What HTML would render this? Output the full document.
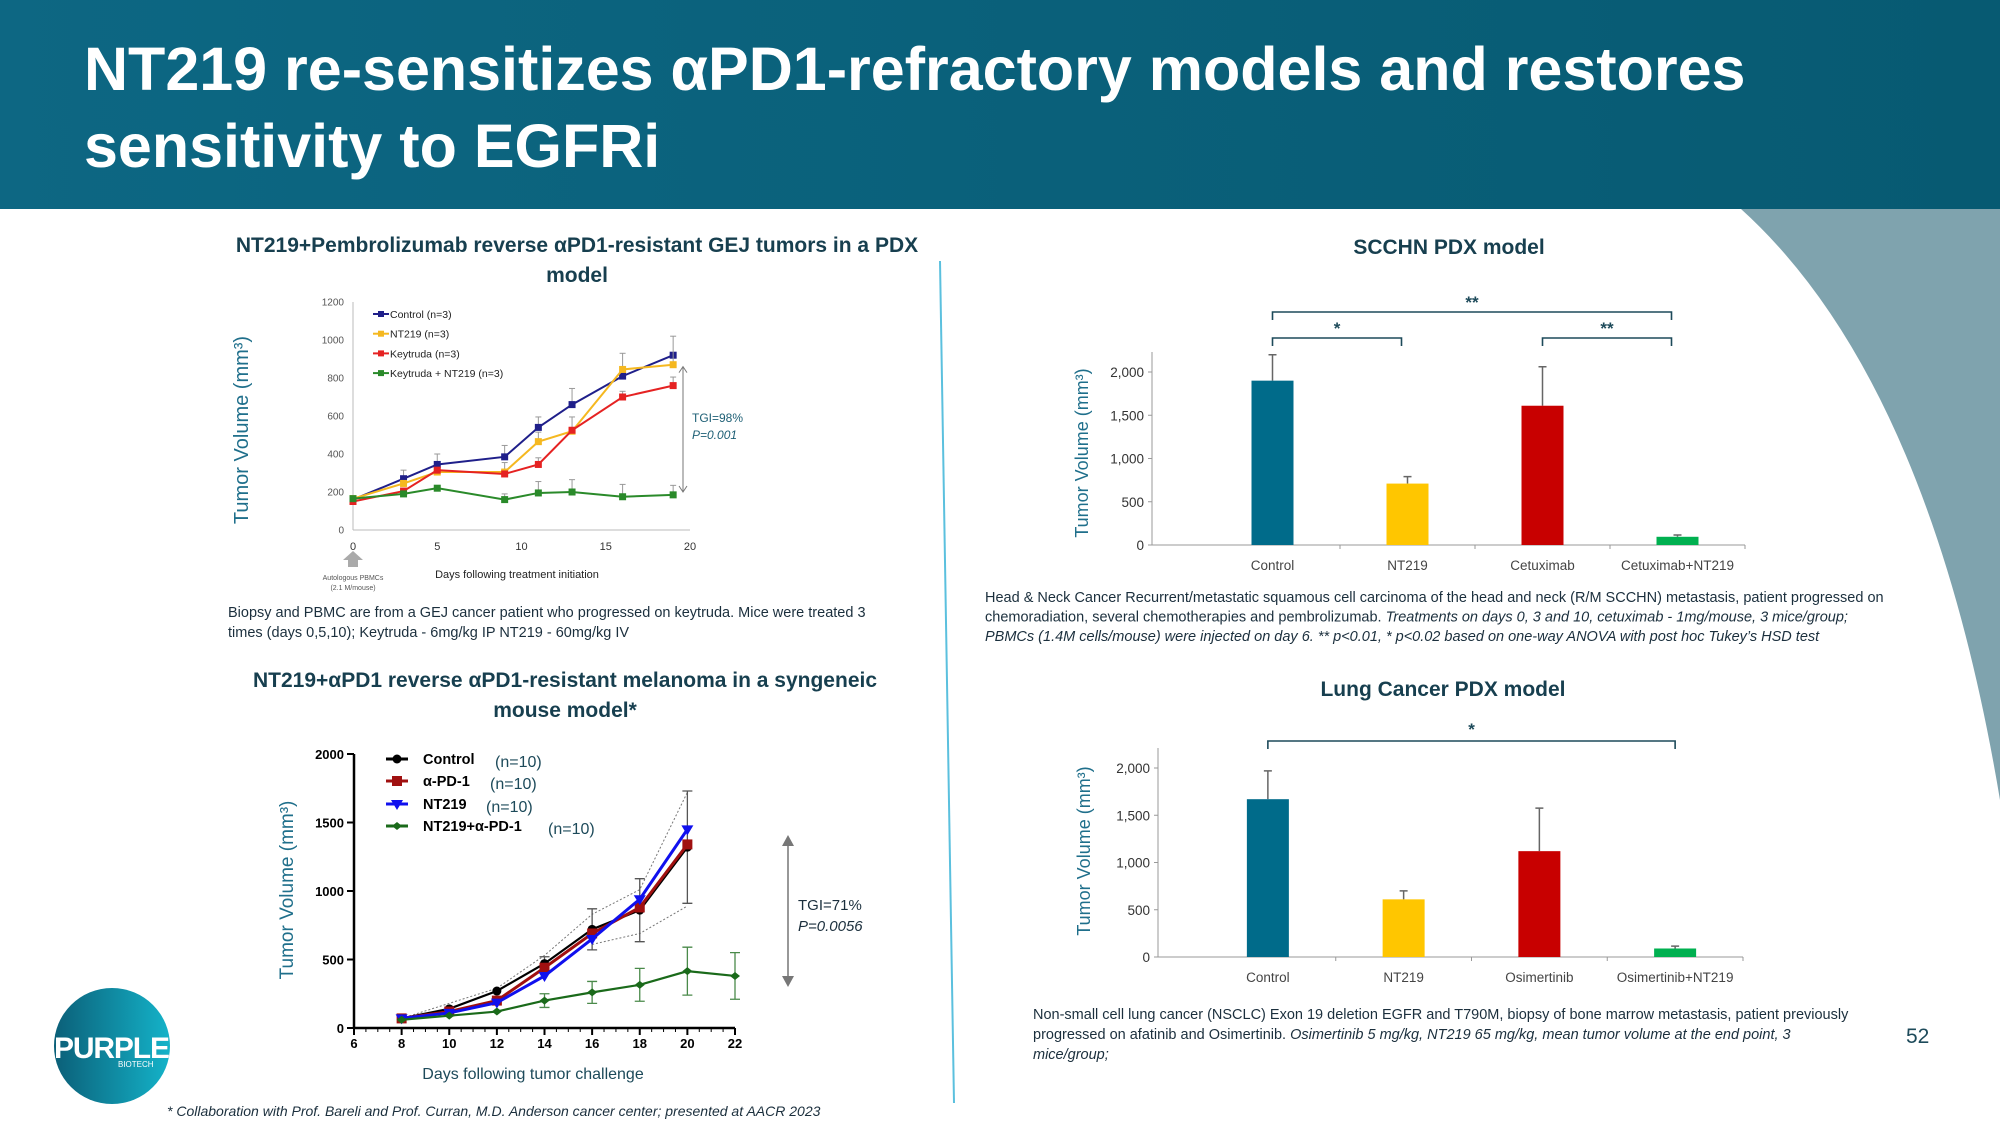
<!DOCTYPE html>
<html><head><meta charset="utf-8"><style>
html,body{margin:0;padding:0;background:#fff}
svg{display:block;font-family:"Liberation Sans",sans-serif}
</style></head><body>
<svg id="s" width="2000" height="1125" viewBox="0 0 2000 1125" xmlns="http://www.w3.org/2000/svg">
<defs>
<linearGradient id="hg" x1="0" x2="1" y1="0" y2="0"><stop offset="0" stop-color="#0d6783"/><stop offset="1" stop-color="#075a72"/></linearGradient>
<linearGradient id="lg" x1="0" x2="1"><stop offset="0" stop-color="#0b5f78"/><stop offset="1" stop-color="#14b3c9"/></linearGradient>
<clipPath id="cc"><circle cx="112" cy="1046" r="58"/></clipPath>
</defs>
<rect x="0" y="0" width="2000" height="209" fill="url(#hg)"/>
<path d="M1741 209 Q1930 380 2000 800 L2000 209 Z" fill="#7fa3ae"/>
<text x="84" y="90" font-size="61" font-weight="bold" fill="#fff"><tspan x="84">NT219  re-sensitizes αPD1-refractory models and restores</tspan><tspan x="84" dy="77">sensitivity to EGFRi</tspan></text>
<line x1="940" y1="261" x2="954" y2="1103" stroke="#5bc0de" stroke-width="2"/>

<g fill="#173f4f" font-weight="bold" font-size="21" text-anchor="middle">
<text x="577" y="252">NT219+Pembrolizumab reverse αPD1-resistant GEJ tumors in a PDX</text>
<text x="577" y="282">model</text>
<text x="565" y="687">NT219+αPD1 reverse αPD1-resistant melanoma in a syngeneic</text>
<text x="565" y="717">mouse model*</text>
<text x="1449" y="254">SCCHN PDX model</text>
<text x="1443" y="696">Lung Cancer PDX model</text>
</g>

<g fill="#1b2f3d" font-size="14.5">
<text x="228" y="617"><tspan x="228">Biopsy and PBMC are from a GEJ cancer patient who progressed on keytruda.  Mice were treated 3</tspan><tspan x="228" dy="20">times (days  0,5,10); Keytruda - 6mg/kg IP NT219 - 60mg/kg IV</tspan></text>
<text x="985" y="602"><tspan x="985">Head &amp; Neck Cancer Recurrent/metastatic squamous cell carcinoma of the head and neck (R/M SCCHN) metastasis, patient progressed on</tspan><tspan x="985" dy="19.5">chemoradiation, several chemotherapies and pembrolizumab. <tspan font-style="italic">Treatments on days 0, 3 and 10, cetuximab - 1mg/mouse, 3 mice/group;</tspan></tspan><tspan x="985" dy="19.5" font-style="italic">PBMCs (1.4M cells/mouse) were injected on day 6. ** p&lt;0.01, * p&lt;0.02 based on one-way ANOVA with post hoc Tukey’s HSD test</tspan></text>
<text x="1033" y="1019"><tspan x="1033">Non-small cell lung cancer (NSCLC) Exon 19 deletion EGFR and T790M, biopsy of bone marrow metastasis, patient previously</tspan><tspan x="1033" dy="20">progressed on afatinib and Osimertinib. <tspan font-style="italic">Osimertinib 5 mg/kg, NT219 65 mg/kg, mean tumor volume at the end point, 3</tspan></tspan><tspan x="1033" dy="20" font-style="italic">mice/group;</tspan></text>
<text x="167" y="1116" font-style="italic" font-size="14">* Collaboration with Prof. Bareli and Prof. Curran, M.D. Anderson cancer center; presented at AACR 2023</text>
</g>
<text x="1906" y="1043" font-size="21" fill="#1d4a5a">52</text>

<g>
<circle cx="112" cy="1046" r="58" fill="url(#lg)"/>
<text x="54" y="1058" font-size="30" font-weight="bold" fill="#0f6f87" textLength="116">PURPLE</text>
<text x="54" y="1058" font-size="30" font-weight="bold" fill="#fff" textLength="116" clip-path="url(#cc)">PURPLE</text>
<text x="118" y="1067" font-size="8" fill="#fff">BIOTECH</text>
</g>

<g id="c1"></g>
<g id="c2"></g>
<g id="c3"></g>
<g id="c4"></g>
</svg>
<script>
// ---- GEJ chart data
const gejDays = [0,3,5,9,11,13,16,19];
const gejControl = [160,270,345,385,540,660,810,920];
const gejNT219 = [165,245,305,305,465,520,845,870];
const gejKeytruda = [150,205,315,295,345,525,700,760];
const gejCombo = [165,190,220,160,195,200,175,185];
const gejControlErr = [0,45,55,60,55,85,0,0];
const gejNT219Err = [0,0,0,50,50,0,85,150];
const gejKeytrudaErr = [0,0,0,0,35,70,30,45];
const gejComboErr = [0,0,0,30,60,65,65,50];
const gejYTicks = [0,200,400,600,800,1000,1200];
const gejXTicks = [0,5,10,15,20];
// ---- Melanoma chart data
const melDays = [8,10,12,14,16,18,20];
const melControl = [70,140,270,470,720,860,1320];
const melAPD1 = [70,120,200,440,690,880,1340];
const melNT219 = [70,110,185,380,650,940,1450];
const melComboDays = [8,10,12,14,16,18,20,22];
const melCombo = [60,90,120,200,260,315,415,380];
const melComboErr = [0,0,0,50,80,120,175,170];
const melControlErr = [0,0,0,50,150,230,410];
const melUpperDays = [8,12,14,16,18,20];
const melUpper = [70,290,530,830,1010,1720];
const melLowerDays = [16,18,20];
const melLower = [610,690,890];
const melYTicks = [0,500,1000,1500,2000];
const melXTicks = [6,8,10,12,14,16,18,20,22];
// ---- SCCHN
const scCats = ['Control','NT219','Cetuximab','Cetuximab+NT219'];
const scVals = [1900,710,1610,95];
const scErrTop = [2200,790,2060,115];
const scTicks = [0,500,1000,1500,2000];
const scTickLabels = ['0','500','1,000','1,500','2,000'];
// ---- Lung
const luCats = ['Control','NT219','Osimertinib','Osimertinib+NT219'];
const luVals = [1670,610,1120,90];
const luErrTop = [1970,700,1575,115];
const luTicks = [0,500,1000,1500,2000];
const luTickLabels = ['0','500','1,000','1,500','2,000'];
const barColors = ['#006b8a','#ffc600','#c80000','#00b050'];

const NS='http://www.w3.org/2000/svg';
function mk(p,tag,a,txt){const e=document.createElementNS(NS,tag);for(const k in a)e.setAttribute(k,a[k]);if(txt!==undefined)e.textContent=txt;p.appendChild(e);return e;}
function pts(xs,ys,X,Y){return xs.map((d,i)=>X(d)+','+Y(ys[i])).join(' ');}

// ===== Chart 1
(function(){
const g=document.getElementById('c1');
const X=d=>353+(d-0)/20*(690-353), Y=v=>530-v/1200*(530-302);
mk(g,'line',{x1:353,y1:302,x2:353,y2:530,stroke:'#bbb'});
mk(g,'line',{x1:353,y1:530,x2:690,y2:530,stroke:'#bbb'});
gejYTicks.forEach(t=>{const e=mk(g,'text',{x:344,y:Y(t)+3.5,'font-size':10,fill:'#555','text-anchor':'end'},t);
});
gejXTicks.forEach(t=>{const e=mk(g,'text',{x:X(t),y:550,'font-size':11,fill:'#333','text-anchor':'middle'},t);
});
const series=[[gejControl,gejControlErr,'#1f1f8a','control'],[gejNT219,gejNT219Err,'#f5b820','nt219'],[gejKeytruda,gejKeytrudaErr,'#e52222','keytruda'],[gejCombo,gejComboErr,'#2a8a2a','keytruda-nt219']];
series.forEach(([v,er,c,n])=>{
 v.forEach((y,i)=>{if(er[i]>0){mk(g,'line',{x1:X(gejDays[i]),y1:Y(y),x2:X(gejDays[i]),y2:Y(y+er[i]),stroke:'#999','stroke-width':1});mk(g,'line',{x1:X(gejDays[i])-3,y1:Y(y+er[i]),x2:X(gejDays[i])+3,y2:Y(y+er[i]),stroke:'#999'});}});
 const l=mk(g,'polyline',{points:pts(gejDays,v,X,Y),fill:'none',stroke:c,'stroke-width':2});
 
 v.forEach((y,i)=>{const r=mk(g,'rect',{x:X(gejDays[i])-3.5,y:Y(y)-3.5,width:7,height:7,fill:c});
 });
});
const leg=[['Control (n=3)','#1f1f8a'],['NT219 (n=3)','#f5b820'],['Keytruda (n=3)','#e52222'],['Keytruda + NT219 (n=3)','#2a8a2a']];
leg.forEach(([t,c],i)=>{const y=314+i*19.7;
 const e=mk(g,'g',{});
 mk(e,'line',{x1:373,y1:y,x2:389,y2:y,stroke:c,'stroke-width':2});mk(e,'rect',{x:378,y:y-3,width:6,height:6,fill:c});
 mk(e,'text',{x:390,y:y+4,'font-size':10.5,fill:'#222'},t);});
mk(g,'line',{x1:683,y1:Y(860),x2:683,y2:Y(200),stroke:'#777'});
mk(g,'path',{d:`M679 ${Y(860)+6} L683 ${Y(860)} L687 ${Y(860)+6} M679 ${Y(200)-6} L683 ${Y(200)} L687 ${Y(200)-6}`,stroke:'#777',fill:'none'});
mk(g,'text',{x:692,y:422,'font-size':12,fill:'#1d5f75'},'TGI=98%');
mk(g,'text',{x:692,y:439,'font-size':12,fill:'#1d5f75','font-style':'italic'},'P=0.001');
mk(g,'text',{x:517,y:578,'font-size':11,fill:'#222','text-anchor':'middle'},'Days following treatment initiation');
mk(g,'path',{d:'M348 567 L348 560 L343 560 L353 551 L363 560 L358 560 L358 567 Z',fill:'#aaa'});
mk(g,'text',{x:353,y:580,'font-size':7,fill:'#555','text-anchor':'middle'},'Autologous PBMCs');
mk(g,'text',{x:353,y:590,'font-size':7,fill:'#555','text-anchor':'middle'},'(2.1 M/mouse)');
const yl=mk(g,'text',{x:0,y:0,'font-size':20,fill:'#1f6f8b','text-anchor':'middle',transform:'translate(248,430) rotate(-90)'},'Tumor Volume (mm³)');

})();

// ===== Chart 2
(function(){
const g=document.getElementById('c2');
const X=d=>354+(d-6)/16*(735-354), Y=v=>1028-v/2000*(1028-754);
mk(g,'line',{x1:354,y1:754,x2:354,y2:1028,stroke:'#000','stroke-width':2.5});
mk(g,'line',{x1:354,y1:1028,x2:735,y2:1028,stroke:'#000','stroke-width':2.5});
melYTicks.forEach(t=>{mk(g,'line',{x1:347,y1:Y(t),x2:354,y2:Y(t),stroke:'#000','stroke-width':2});
 const e=mk(g,'text',{x:344,y:Y(t)+5,'font-size':13,'font-weight':'bold',fill:'#000','text-anchor':'end'},t);
 });
melXTicks.forEach(t=>{mk(g,'line',{x1:X(t),y1:1028,x2:X(t),y2:1035,stroke:'#000','stroke-width':2});
 const e=mk(g,'text',{x:X(t),y:1048,'font-size':13,'font-weight':'bold',fill:'#000','text-anchor':'middle'},t);
 });
for(let d=6.5;d<22;d+=0.5){if(d%2)mk(g,'line',{x1:X(d),y1:1028,x2:X(d),y2:1032,stroke:'#000'});}
mk(g,'polyline',{points:pts(melUpperDays,melUpper,X,Y),fill:'none',stroke:'#777','stroke-dasharray':'2,2'});
mk(g,'polyline',{points:pts(melLowerDays,melLower,X,Y),fill:'none',stroke:'#777','stroke-dasharray':'2,2'});
melDays.forEach((d,i)=>{const e=melControlErr[i];if(e>0){mk(g,'path',{d:`M${X(d)} ${Y(melControl[i]-e)} V${Y(melControl[i]+e)} M${X(d)-5} ${Y(melControl[i]-e)} h10 M${X(d)-5} ${Y(melControl[i]+e)} h10`,stroke:'#555','stroke-width':1.3});}});
melComboDays.forEach((d,i)=>{const e=melComboErr[i];if(e>0){mk(g,'path',{d:`M${X(d)} ${Y(melCombo[i]-e)} V${Y(melCombo[i]+e)} M${X(d)-5} ${Y(melCombo[i]-e)} h10 M${X(d)-5} ${Y(melCombo[i]+e)} h10`,stroke:'#4a8a4a','stroke-width':1.3});}});
const lines=[[melDays,melControl,'#000','control','c'],[melDays,melAPD1,'#a01010','apd1','s'],[melDays,melNT219,'#1010ee','nt219','t'],[melComboDays,melCombo,'#1a6a1a','combo','d']];
lines.forEach(([xs,v,c,n,m])=>{
 const l=mk(g,'polyline',{points:pts(xs,v,X,Y),fill:'none',stroke:c,'stroke-width':m==='c'||m==='d'?2.2:3});
 
 xs.forEach((d,i)=>{const x=X(d),y=Y(v[i]);let e;
  if(m==='c')e=mk(g,'circle',{cx:x,cy:y,r:4.5,fill:c});
  else if(m==='s')e=mk(g,'rect',{x:x-5,y:y-5,width:10,height:10,fill:c});
  else if(m==='t')e=mk(g,'path',{d:`M${x-6} ${y-4} L${x+6} ${y-4} L${x} ${y+6} Z`,fill:c});
  else e=mk(g,'path',{d:`M${x} ${y-4} L${x+5} ${y} L${x} ${y+4} L${x-5} ${y} Z`,fill:c});
  });
});
const leg=[['Control','#000','c',495],['α-PD-1','#a01010','s',490],['NT219','#1010ee','t',486],['NT219+α-PD-1','#1a6a1a','d',548]];
leg.forEach(([t,c,m,nx],i)=>{const y=[759,781,804,826][i];
 const e=mk(g,'g',{});
 mk(e,'line',{x1:386,y1:y,x2:408,y2:y,stroke:c,'stroke-width':3});
 if(m==='c')mk(e,'circle',{cx:397,cy:y,r:4.5,fill:c});else if(m==='s')mk(e,'rect',{x:392,y:y-5,width:10,height:10,fill:c});
 else if(m==='t')mk(e,'path',{d:`M391 ${y-4} L403 ${y-4} L397 ${y+6} Z`,fill:c});else mk(e,'path',{d:`M397 ${y-4} L402 ${y} L397 ${y+4} L392 ${y} Z`,fill:c});
 mk(e,'text',{x:423,y:y+5,'font-size':14.5,'font-weight':'bold',fill:'#000'},t);
 mk(e,'text',{x:nx,y:y+8,'font-size':16,fill:'#1d4a5a'},'(n=10)');});
mk(g,'line',{x1:788,y1:840,x2:788,y2:982,stroke:'#777','stroke-width':1.5});
mk(g,'path',{d:'M782 846 L788 835 L794 846 Z M782 976 L788 987 L794 976 Z',fill:'#777'});
mk(g,'text',{x:798,y:910,'font-size':15,fill:'#1b2f3d'},'TGI=71%');
mk(g,'text',{x:798,y:931,'font-size':15,fill:'#1b2f3d','font-style':'italic'},'P=0.0056');
mk(g,'text',{x:533,y:1079,'font-size':16,fill:'#1d4a5a','text-anchor':'middle'},'Days following tumor challenge');
const yl=mk(g,'text',{x:0,y:0,'font-size':19,fill:'#1f6f8b','text-anchor':'middle',transform:'translate(293,890) rotate(-90)'},'Tumor Volume (mm³)');

})();

// ===== Bar charts
function bars(id,cats,vals,errs,ticks,tickLabels,ax,x0,x1,yb,yt,ylx,yly,pref){
 const g=document.getElementById(id);
 const Y=v=>yb-v/2000*(yb-yt), bw=(x1-x0)/cats.length, C=i=>x0+bw*(i+0.5);
 mk(g,'line',{x1:ax,y1:yt-20,x2:ax,y2:yb,stroke:'#999'});
 mk(g,'line',{x1:ax,y1:yb,x2:x1,y2:yb,stroke:'#999'});
 for(let i=1;i<=cats.length;i++)mk(g,'line',{x1:x0+bw*i,y1:yb,x2:x0+bw*i,y2:yb+4,stroke:'#999'});
 ticks.forEach((t,i)=>{mk(g,'line',{x1:ax-4,y1:Y(t),x2:ax,y2:Y(t),stroke:'#999'});
  const e=mk(g,'text',{x:ax-8,y:Y(t)+5,'font-size':13.5,fill:'#333','text-anchor':'end'},tickLabels[i]);
  });
 cats.forEach((c,i)=>{
  mk(g,'path',{d:`M${C(i)} ${Y(vals[i])} V${Y(errs[i])} M${C(i)-4} ${Y(errs[i])} h8`,stroke:'#666','stroke-width':1.5});
  const r=mk(g,'rect',{x:C(i)-21,y:Y(vals[i]),width:42,height:Y(0)-Y(vals[i]),fill:barColors[i]});
  
  const t=mk(g,'text',{x:C(i),y:yb+25,'font-size':13.5,fill:'#444','text-anchor':'middle'},c);
  });
 const yl=mk(g,'text',{x:0,y:0,'font-size':18,fill:'#1f6f8b','text-anchor':'middle',transform:`translate(${ylx},${yly}) rotate(-90)`},'Tumor Volume (mm³)');
 
 return {g,C};
}
(function(){
 const {g,C}=bars('c3',scCats,scVals,scErrTop,scTicks,scTickLabels,1152,1205,1745,545,372,1088,453,'scchn');
 const br=(a,b,y,s)=>{mk(g,'path',{d:`M${C(a)} ${y+8} V${y} H${C(b)-6} V${y+8}`,fill:'none',stroke:'#1d4a5a','stroke-width':1.6});
  mk(g,'text',{x:(C(a)+C(b)-6)/2,y:y-4,'font-size':17,'font-weight':'bold',fill:'#1d4a5a','text-anchor':'middle'},s);};
 br(0,3,312,'**');br(0,1,338,'*');br(2,3,338,'**');
})();
(function(){
 const {g,C}=bars('c4',luCats,luVals,luErrTop,luTicks,luTickLabels,1158,1200,1743,957,768,1090,851,'lung');
 mk(g,'path',{d:`M${C(0)} 749 V741 H${C(3)} V749`,fill:'none',stroke:'#1d4a5a','stroke-width':1.6});
 mk(g,'text',{x:(C(0)+C(3))/2,y:735,'font-size':17,'font-weight':'bold',fill:'#1d4a5a','text-anchor':'middle'},'*');
})();
</script>
</body></html>
